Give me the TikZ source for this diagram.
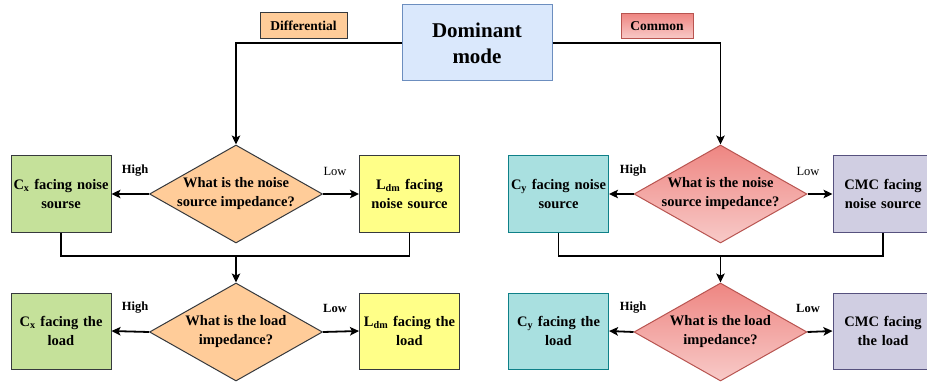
\documentclass[tikz,border=0pt]{standalone}
\usepackage{fontspec}
\setmainfont{Liberation Serif}
\usetikzlibrary{shapes.geometric,arrows.meta}
\definecolor{domfill}{HTML}{DAE8FC}
\definecolor{domline}{HTML}{6C8EBF}
\definecolor{orfill}{HTML}{FFCC99}
\definecolor{darkline}{HTML}{36393D}
\definecolor{grfill}{HTML}{C5E19A}
\definecolor{yefill}{HTML}{FFFF88}
\definecolor{cyfill}{HTML}{A9E0E0}
\definecolor{cyline}{HTML}{0E8088}
\definecolor{lvfill}{HTML}{D0CEE2}
\definecolor{lvline}{HTML}{56517E}
\definecolor{redlight}{HTML}{F8CAC8}
\definecolor{reddark}{HTML}{EE8682}
\definecolor{redline}{HTML}{B85450}
\tikzset{
  x=1pt, y=1pt,
  txt/.style={font=\fontsize{14.5}{19}\selectfont\bfseries, align=center},
  boxnode/.style={draw, line width=1pt, rectangle, minimum width=100pt, minimum height=76pt, inner sep=2pt, text width=96pt, txt},
  greenbox/.style={boxnode, fill=grfill, draw=darkline},
  yellowbox/.style={boxnode, fill=yefill, draw=darkline},
  cyanbox/.style={boxnode, fill=cyfill, draw=cyline},
  lavbox/.style={boxnode, fill=lvfill, draw=lvline},
  dia/.style={shape=diamond, line width=1pt, minimum width=173pt, minimum height=98pt, inner sep=0pt},
  oradia/.style={dia, draw=darkline, fill=orfill},
  reddia/.style={dia, draw=redline, top color=reddark, bottom color=redlight},
  arr/.style={line width=1.8pt, -{Stealth[length=9pt,width=8.5pt,inset=2pt]}},
  ln/.style={line width=1.8pt},
  hl/.style={font=\fontsize{12.5}{14}\selectfont\bfseries},
  ll/.style={font=\fontsize{12.5}{14}\selectfont},
}
\begin{document}
\begin{tikzpicture}
\useasboundingbox (0,0) rectangle (927,-385);
\clip (0,0) rectangle (927,-385);
\fill[white] (0,0) rectangle (927,-385);

% top
\node[draw=domline, fill=domfill, line width=1pt, minimum width=150pt, minimum height=76pt,
  font=\fontsize{21}{26}\selectfont\bfseries, align=center] (dom) at (477,-43) {Dominant\\mode};
\node[draw=darkline, fill=orfill, line width=1pt, minimum width=87pt, minimum height=26pt, inner sep=0pt,
  font=\fontsize{13.5}{15}\selectfont\bfseries] (difflab) at (303.5,-26) {Differential};
\node[draw=redline, line width=1pt, top color=reddark, bottom color=redlight, minimum width=72pt, minimum height=25pt, inner sep=0pt,
  font=\fontsize{13.5}{15}\selectfont\bfseries] (comlab) at (657,-26) {Common};

% left side
\node[oradia, label={[txt]center:What is the noise\\source impedance?}] (d1) at (236,-194) {};
\node[greenbox] (cx1) at (61,-194) {C\textsubscript{x} facing noise\\sourse};
\node[yellowbox] (ld1) at (409.5,-194) {L\textsubscript{dm} facing\\noise source};
\node[oradia, label={[txt]center:What is the load\\impedance?}] (d2) at (236,-332) {};
\node[greenbox] (cx2) at (61,-331) {C\textsubscript{x} facing the\\load};
\node[yellowbox] (ld2) at (409.5,-331) {L\textsubscript{dm} facing the\\load};

% right side
\node[reddia, label={[txt]center:What is the noise\\source impedance?}] (d3) at (720.5,-194) {};
\node[cyanbox] (cy1) at (558.5,-194) {C\textsubscript{y} facing noise\\source};
\node[lavbox] (cm1) at (883,-194) {CMC facing\\noise source};
\node[reddia, label={[txt]center:What is the load\\impedance?}] (d4) at (720.5,-332) {};
\node[cyanbox] (cy2) at (558.5,-331) {C\textsubscript{y} facing the\\load};
\node[lavbox] (cm2) at (883,-331) {CMC facing\\the load};

% branch labels
\node[hl] (h1) at (135,-171) {High};
\node[ll] (l1) at (335,-171) {Low};
\node[hl] (h2) at (135,-308) {High};
\node[hl] (l2) at (335,-308) {Low};
\node[hl] (h3) at (633,-171) {High};
\node[ll] (l3) at (808,-171) {Low};
\node[hl] (h4) at (633,-308) {High};
\node[hl] (l4) at (808,-308) {Low};

% connectors from dominant
\draw[arr] (dom.west) -| (d1.north);
\draw[arr] (dom.east) -| (d3.north);

% branches
\draw[arr] (d1.west) -- (cx1.east);
\draw[arr] (d1.east) -- (ld1.west);
\draw[arr] (d2.west) -- (cx2.east);
\draw[arr] (d2.east) -- (ld2.west);
\draw[arr] (d3.west) -- (cy1.east);
\draw[arr] (d3.east) -- (cm1.west);
\draw[arr] (d4.west) -- (cy2.east);
\draw[arr] (d4.east) -- (cm2.west);

% merges
\coordinate (m1) at (236,-256);
\coordinate (m2) at (720.5,-256);
\draw[ln] (cx1.south) |- (m1) -| (ld1.south);
\draw[arr] (m1) -- (d2.north);
\draw[ln] (cy1.south) |- (m2) -| (cm1.south);
\draw[arr] (m2) -- (d4.north);
\end{tikzpicture}
\end{document}
